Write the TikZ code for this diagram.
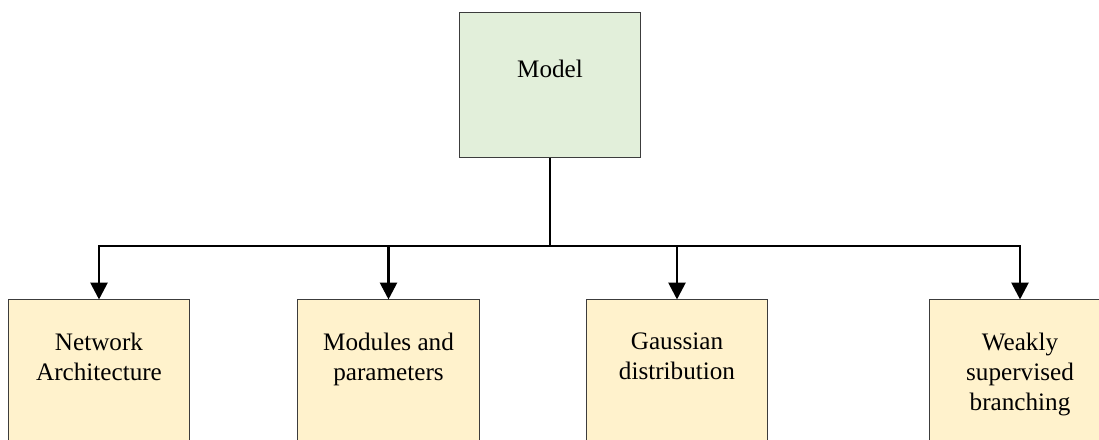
\documentclass[tikz,border=0pt]{standalone}
\usepackage{fontspec}
\setmainfont{Liberation Serif}
\usetikzlibrary{positioning,arrows.meta}
\definecolor{modelgreen}{RGB}{226,239,218}
\definecolor{partyellow}{RGB}{255,242,204}
\definecolor{boxedge}{RGB}{60,60,60}

\begin{document}
\begin{tikzpicture}[x=0.025cm,y=-0.025cm,
    every node/.style={font=\fontsize{17.9}{21.3}\selectfont},
    box/.style={draw=boxedge, line width=0.7pt, minimum width=4.525cm,
      minimum height=3.6cm, inner sep=0pt},
    txt/.style={align=center, inner sep=0pt},
    link/.style={line width=2pt},
    arr/.style={link, -{Triangle[width=12pt,length=12pt]}},
  ]
  \clip (0,0) rectangle (1099,440);

  % top box
  \node[box, fill=modelgreen] (model) at (550,85) {};
  \node[txt, anchor=base] (modeltxt) at (550,77) {Model};

  % the four parts, cut off by the page edge
  \node[box, fill=partyellow] (arch) at (99,372) {};
  \node[box, fill=partyellow] (modules) at (388.5,372) {};
  \node[box, fill=partyellow] (gauss) at (677,372) {};
  \node[box, fill=partyellow] (weak) at (1020,372) {};

  \node[txt, below=0.825cm of arch.north] (archtxt) {Network\\Architecture};
  \node[txt, below=0.825cm of modules.north] (modulestxt) {Modules and\\parameters};
  \node[txt, below=0.825cm of gauss.north] (gausstxt) {Gaussian\\distribution};
  \node[txt, below=0.825cm of weak.north] (weaktxt) {Weakly\\supervised\\branching};

  % tree lines
  \coordinate (bus) at (model.south |- 0,246);
  \draw[link] (model.south) -- (bus);
  \foreach \part in {arch,modules,gauss,weak}
    \draw[arr] (bus) -| (\part.north);

\end{tikzpicture}
\end{document}
